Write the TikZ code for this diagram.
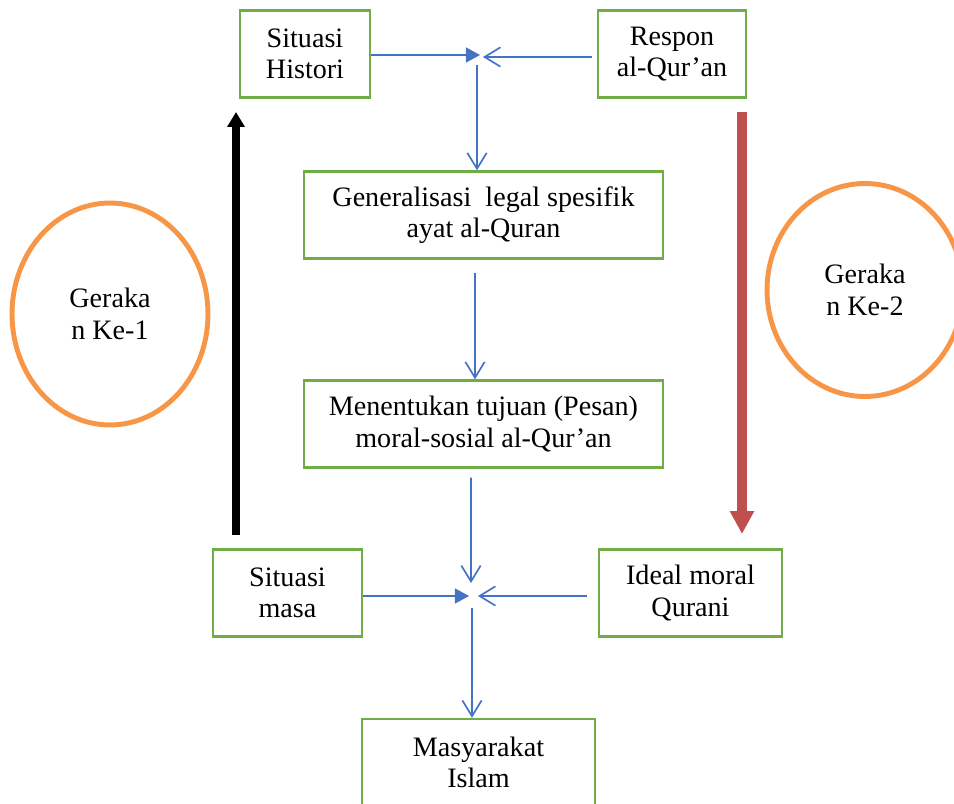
\documentclass[tikz,border=0pt]{standalone}
\usepackage{fontspec}
\setmainfont{Liberation Serif}
\usetikzlibrary{arrows.meta,shapes.geometric}
\definecolor{hijau}{RGB}{112,173,71}
\definecolor{biru}{RGB}{68,114,196}
\definecolor{oranye}{RGB}{247,150,70}
\definecolor{merah}{RGB}{192,80,77}

\tikzset{
    kotak/.style={draw=hijau, line width=1.4pt, minimum height=1.74cm, inner sep=0pt, align=center, font=\fontsize{16}{18}\selectfont},
    panah/.style={draw=biru, line width=0.95pt, -{Straight Barb[length=9pt,width=11pt]}},
    panahisi/.style={draw=biru, line width=0.95pt, -{Triangle[length=8pt,width=8.5pt]}},
    gerak/.style={draw=oranye, line width=2.8pt, ellipse, minimum width=3.92cm, align=center, font=\fontsize{16}{18}\selectfont}
}

\begin{document}
\begin{tikzpicture}[x=0.02cm,y=-0.02cm]
    \useasboundingbox (0,0) rectangle (954,804);
    \clip (0,0) rectangle (954,804);

    % kotak-kotak
    \node[kotak, minimum width=2.6cm] (hist) at (305,54) {Situasi\\Histori};
    \node[kotak, minimum width=2.96cm] (respon) at (672,54) {Respon\\al-Qur’an};
    \node[kotak, minimum width=7.18cm] (general) at (483.5,215) {Generalisasi\ \ legal spesifik\\ayat al-Quran};
    \node[kotak, minimum width=7.18cm] (tujuan) at (483.5,424) {Menentukan tujuan (Pesan)\\moral-sosial al-Qur’an};
    \node[kotak, minimum width=2.98cm] (masa) at (287.5,593) {Situasi\\masa};
    \node[kotak, minimum width=3.66cm] (ideal) at (690.5,593) {Ideal moral\\Qurani};
    \node[kotak, minimum width=4.66cm] (masyarakat) at (478.5,762.5) {Masyarakat\\Islam};

    % gerakan
    \node[gerak, minimum height=4.44cm] (gerak1) at (110,314) {Geraka\\n Ke-1};
    \node[gerak, minimum height=4.26cm] (gerak2) at (865,290) {Geraka\\n Ke-2};

    % titik temu
    \coordinate (temu1) at (480,55);
    \coordinate (temu1b) at (483,57);
    \coordinate (turun1) at (477,65);
    \coordinate (temu2) at (469,596);
    \coordinate (temu2b) at (478,596);
    \coordinate (temu2c) at (471,583);
    \coordinate (turun2) at (472,608);

    \draw[panahisi] (hist.east |- temu1) -- (temu1);
    \draw[panah, shorten <=3pt] (respon.west |- temu1b) -- (temu1b);
    \draw[panah] (turun1) -- (turun1 |- general.north);
    \draw[panah] ([xshift=-0.17cm,yshift=-0.26cm]general.south) -- ([xshift=-0.17cm]tujuan.north);
    \draw[panah] ([xshift=-0.25cm,yshift=-0.18cm]tujuan.south) -- (temu2c);
    \draw[panahisi] (masa.east |- temu2) -- (temu2);
    \draw[panah, shorten <=6pt] (ideal.west |- temu2b) -- (temu2b);
    \draw[panah] (turun2) -- (turun2 |- masyarakat.north);

    % panah besar
    \coordinate (kiri1) at (236,535);
    \coordinate (kiri2) at (236,112);
    \coordinate (kanan1) at (742,112);
    \coordinate (kanan2) at (742,534);
    \draw[line width=4pt, -{Triangle[length=8.5pt,width=9.6pt]}] (kiri1) -- (kiri2);
    \draw[merah, line width=5.7pt, -{Triangle[length=13pt,width=13pt]}] (kanan1) -- (kanan2);
\end{tikzpicture}
\end{document}
